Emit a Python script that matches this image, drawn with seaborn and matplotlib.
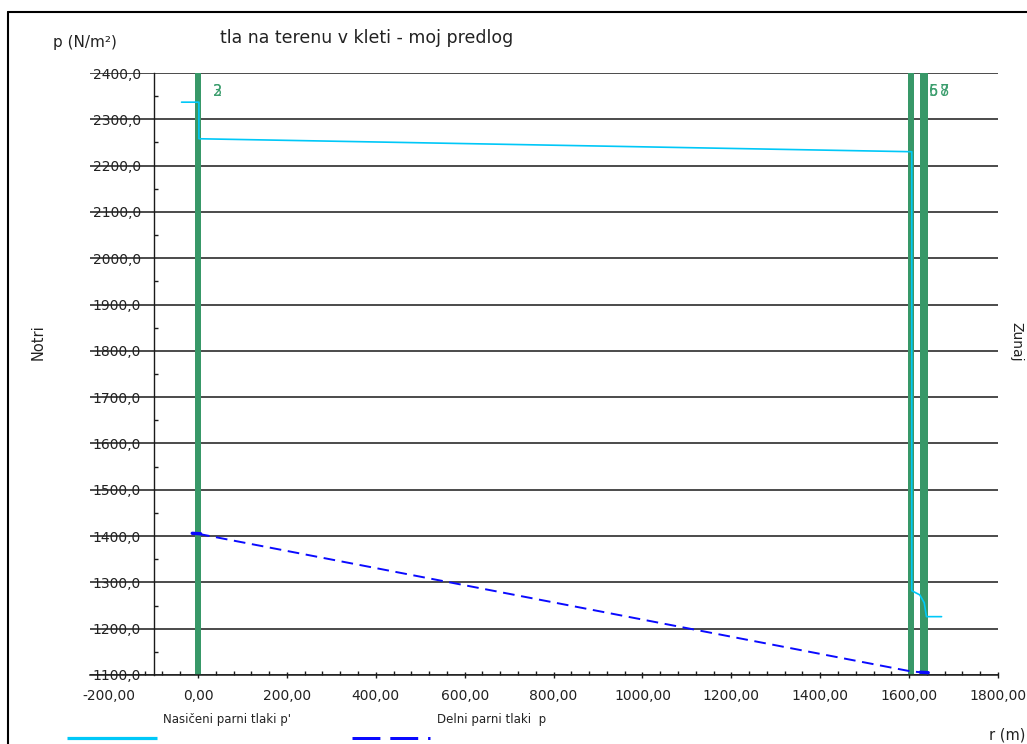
import numpy as np
import pandas as pd
import matplotlib
matplotlib.use("Agg")
import matplotlib.pyplot as plt
from matplotlib.lines import Line2D
from matplotlib.ticker import FixedLocator, MultipleLocator, FuncFormatter
import seaborn as sns

# Saturated vapour pressure p' along the construction (r in m, p in N/m2)
sat_r = [-37, 2, 2, 1606, 1606, 1624, 1634, 1639, 1673]
sat_p = [2337, 2337, 2258, 2230, 1282, 1273, 1256, 1226, 1226]

# Partial vapour pressure p
part_r = [0, 1603, 1625, 1643]
part_p = [1405, 1108, 1106, 1104]
# short segments drawn solid inside the thin layers
part_solid_left_r = [-13, 6]
part_solid_left_p = [1406, 1405]
part_solid_right_r = [1625, 1643]
part_solid_right_p = [1106, 1105]

# Thin layers (left edge, right edge) and their numbers
layer_left = [-6, 1597, 1625]
layer_right = [6, 1612, 1643]
layer_label_r = [34, 34, 1645, 1645, 1670, 1670]
layer_label_txt = ["2", "3", "5", "6", "7", "8"]

x_major = [-200, 0, 200, 400, 600, 800, 1000, 1200, 1400, 1600, 1800]
y_major = [1100, 1200, 1300, 1400, 1500, 1600, 1700, 1800, 1900, 2000, 2100, 2200, 2300, 2400]

title = "tla na terenu v kleti - moj predlog"
y_label = "p (N/m²)"
x_label = "r (m)"
inside_label = "Notri"
outside_label = "Zunaj"
legend_sat = "Nasičeni parni tlaki p'"
legend_part = "Delni parni tlaki  p"

CYAN = "#00c8f8"
BLUE = "#0a0aff"
GREEN = "#389868"
TXT = "#222222"

sns.set_theme(style="white")
plt.rcParams["font.family"] = ["DejaVu Sans"]

W, H = 1027, 744
fig = plt.figure(figsize=(W / 100, H / 100), dpi=100)
fig.patch.set_facecolor("white")


def fx(px):
    return px / W


def fy(py):
    return 1 - py / H


ax = fig.add_axes([fx(90), fy(675), fx(998) - fx(90), fy(73) - fy(675)])
ax.set_facecolor("white")
ax.set_xlim(-243, 1800)
ax.set_ylim(1100, 2400)

# thin layers
for a, b in zip(layer_left, layer_right):
    ax.axvspan(a, b, color=GREEN, lw=0, zorder=2)
for r, t in zip(layer_label_r, layer_label_txt):
    ax.text(r, 2359, t, color="#3c9e6e", fontsize=10.5, ha="left", va="center", zorder=5)

# horizontal grid
ax.set_yticks(y_major)
ax.grid(axis="y", color="#1a1a1a", lw=1.1, zorder=1)
ax.grid(axis="x", visible=False)
ax.set_axisbelow(True)

# saturated pressure
sat_df = pd.DataFrame({"r": sat_r, "p": sat_p})
sns.lineplot(data=sat_df, x="r", y="p", sort=False, estimator=None,
             color=CYAN, lw=1.2, ax=ax, zorder=4)

# partial pressure
part_df = pd.DataFrame({"r": part_r, "p": part_p})
sns.lineplot(data=part_df, x="r", y="p", sort=False, estimator=None,
             color=BLUE, lw=1.4, ax=ax, zorder=4)
ax.lines[-1].set_dashes((6, 3.4))
sns.lineplot(x=part_solid_left_r, y=part_solid_left_p, sort=False, estimator=None,
             color=BLUE, lw=2.4, ax=ax, zorder=4)
sns.lineplot(x=part_solid_right_r, y=part_solid_right_p, sort=False, estimator=None,
             color=BLUE, lw=2.4, ax=ax, zorder=4)

ax.set_xlabel("")
ax.set_ylabel("")

# axes lines
for s in ["top", "right"]:
    ax.spines[s].set_visible(False)
ax.spines["left"].set_position(("data", -100))
ax.spines["left"].set_color("#1a1a1a")
ax.spines["left"].set_linewidth(1.0)
ax.spines["bottom"].set_color("#1a1a1a")
ax.spines["bottom"].set_linewidth(1.1)

ax.xaxis.set_major_locator(FixedLocator(x_major))
ax.xaxis.set_minor_locator(FixedLocator(list(range(-120, 1800, 40))))
ax.yaxis.set_minor_locator(MultipleLocator(50))
ax.xaxis.set_major_formatter(FuncFormatter(lambda v, _: f"{v:.2f}".replace(".", ",")))
ax.yaxis.set_major_formatter(FuncFormatter(lambda v, _: f"{v:.1f}".replace(".", ",")))

ax.tick_params(axis="x", which="major", direction="inout", length=5, width=1.0,
               color="#1a1a1a", pad=7.5, labelsize=10, labelcolor=TXT, bottom=True)
ax.tick_params(axis="x", which="minor", direction="in", length=3, width=1.0,
               color="#1a1a1a", bottom=True)
ax.tick_params(axis="y", which="major", length=0, pad=9, labelsize=10, labelcolor=TXT, left=True)
ax.tick_params(axis="y", which="minor", direction="in", length=3, width=1.0,
               color="#1a1a1a", left=True)
ax.xaxis.get_major_ticks()[0].tick1line.set_visible(False)

# texts around the plot
fig.text(fx(220), fy(42.7), title, fontsize=12.5, color=TXT, va="baseline", ha="left")
fig.text(fx(53), fy(42), y_label, fontsize=11, color=TXT, va="center", ha="left")
fig.text(fx(38), fy(342), inside_label, fontsize=10.5, color=TXT, rotation=90,
         va="center", ha="center")
fig.text(fx(1016), fy(342), outside_label, fontsize=10, color=TXT, rotation=270,
         va="center", ha="center")
fig.text(fx(1025), fy(735), x_label, fontsize=10.5, color=TXT, va="center", ha="right")

# legend
fig.text(fx(163), fy(719), legend_sat, fontsize=8.5, color=TXT, va="center", ha="left")
fig.text(fx(437), fy(719), legend_part, fontsize=8.5, color=TXT, va="center", ha="left")
fig.add_artist(Line2D([fx(66.7), fx(156.7)], [fy(737.7)] * 2, transform=fig.transFigure,
                      color=CYAN, lw=2.3, solid_capstyle="butt"))
fig.add_artist(Line2D([fx(352), fx(430)], [fy(737.7)] * 2, transform=fig.transFigure,
                      color=BLUE, lw=2.16, dashes=(9.3, 3.3), dash_capstyle="butt"))

# outer frame
fig.add_artist(Line2D([fx(8), fx(1030)], [fy(12), fy(12)], transform=fig.transFigure,
                      color="black", lw=1.5))
fig.add_artist(Line2D([fx(8), fx(8)], [fy(12), fy(750)], transform=fig.transFigure,
                      color="black", lw=1.5))

fig.savefig("out.png", dpi=100)
